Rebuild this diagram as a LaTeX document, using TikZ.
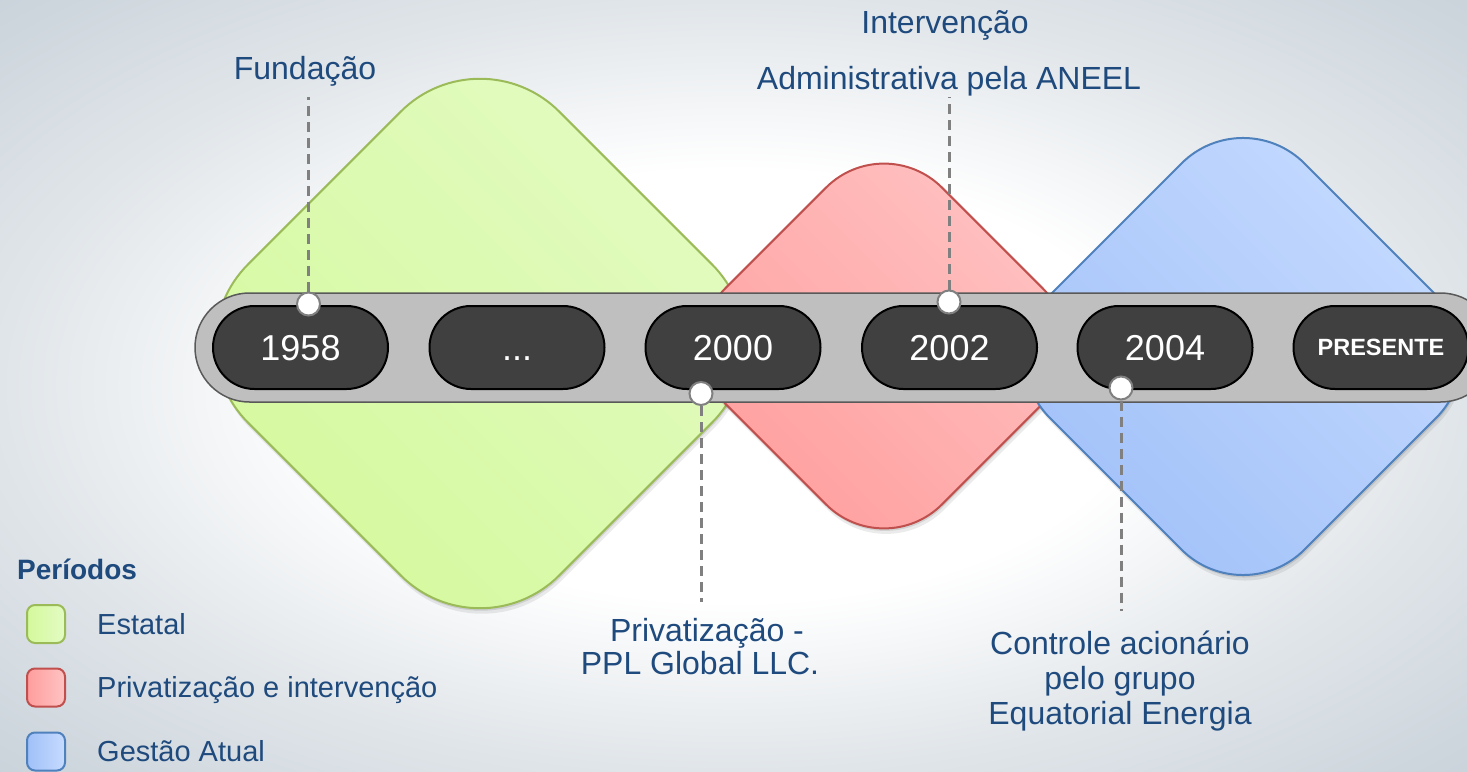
\documentclass[tikz,border=0pt]{standalone}
\usepackage{fontspec}
\setmainfont{Liberation Sans}
\definecolor{txt}{HTML}{1F4A7D}
\definecolor{bgedge}{HTML}{E0E5E9}
\definecolor{bgcorner}{HTML}{C9D2DA}
\definecolor{grnD}{HTML}{D4F99C}
\definecolor{grnL}{HTML}{E3FBC3}
\definecolor{grnB}{HTML}{9BBB59}
\definecolor{redD}{HTML}{FF9D9D}
\definecolor{redL}{HTML}{FFC3C3}
\definecolor{redB}{HTML}{C0504D}
\definecolor{bluD}{HTML}{A0C0F8}
\definecolor{bluL}{HTML}{C6DBFF}
\definecolor{bluB}{HTML}{4F81BD}
\definecolor{barc}{HTML}{BFBFBF}
\definecolor{bard}{HTML}{595959}
\definecolor{pillc}{HTML}{404040}
\definecolor{dashc}{HTML}{808080}
\pgfdeclareradialshading{bgshade}{\pgfpoint{0bp}{0bp}}{color(0bp)=(white); color(14bp)=(white); color(25bp)=(bgedge); color(36bp)=(bgcorner)}
\tikzset{
  pill/.style={draw=black, line width=2pt, fill=pillc, rounded corners=41.5pt,
    minimum width=175pt, minimum height=83pt, inner sep=0pt, text=white,
    font=\fontsize{36}{40}\selectfont, text height=25.8pt, text depth=0pt},
  dot/.style={circle, draw=dashc, line width=2pt, fill=white, minimum size=23pt, inner sep=0pt},
  dashline/.style={draw=dashc, line width=3pt, dash pattern=on 10pt off 6pt},
  lbl/.style={text=txt, font=\fontsize{32}{36}\selectfont, inner sep=0pt, anchor=base},
  leg/.style={text=txt, font=\fontsize{29}{32}\selectfont, inner sep=0pt, anchor=base west},
  legbox/.style={rounded corners=8pt, minimum width=38pt, minimum height=38pt, inner sep=0pt, line width=2pt},
  shadowA/.style={fill=black, opacity=0.10},
  shadowB/.style={fill=black, opacity=0.08},
}
\begin{document}
\begin{tikzpicture}[x=1pt,y=-1pt]
\useasboundingbox (0,0) rectangle (1467,771);
\begin{scope}
\clip (0,0) rectangle (1467,771);
\shade[shading=bgshade] (0,0) rectangle (1467,771);

% green diamond
\begin{scope}[shift={(481,346)},rotate=45]
  \fill[shadowA, rounded corners=112pt] (-220,-220) rectangle (220,220);
\end{scope}
\begin{scope}[shift={(482,349)},rotate=45]
  \fill[shadowB, rounded corners=112pt] (-220,-220) rectangle (220,220);
\end{scope}
\begin{scope}[shift={(480,343.5)},rotate=45]
  \path[draw=grnB, line width=2pt, top color=grnL, bottom color=grnD, shading angle=-45, rounded corners=112pt] (-220,-220) rectangle (220,220);
\end{scope}
% red diamond
\begin{scope}[shift={(885,348.5)},rotate=45]
  \fill[shadowA, rounded corners=82pt] (-153,-153) rectangle (153,153);
\end{scope}
\begin{scope}[shift={(886,351.5)},rotate=45]
  \fill[shadowB, rounded corners=82pt] (-153,-153) rectangle (153,153);
\end{scope}
\begin{scope}[shift={(884,346)},rotate=45]
  \path[draw=redB, line width=2pt, top color=redL, bottom color=redD, shading angle=-45, rounded corners=82pt] (-153,-153) rectangle (153,153);
\end{scope}
% blue diamond
\begin{scope}[shift={(1244,359)},rotate=45]
  \fill[shadowA, rounded corners=87pt] (-180,-180) rectangle (180,180);
\end{scope}
\begin{scope}[shift={(1245,362)},rotate=45]
  \fill[shadowB, rounded corners=87pt] (-180,-180) rectangle (180,180);
\end{scope}
\begin{scope}[shift={(1243,356.5)},rotate=45]
  \path[draw=bluB, line width=2pt, top color=bluL, bottom color=bluD, shading angle=-45, rounded corners=87pt] (-180,-180) rectangle (180,180);
\end{scope}

% bar
\node[draw=bard, line width=1.5pt, fill=barc, rounded corners=54.5pt, minimum width=1300pt, minimum height=109pt, inner sep=0pt] (bar) at (845,347.5) {};

% pills
\node[pill] (p1958) at (300.5,347.5) {1958};
\node[pill] (pdots) at (517,347.5) {...};
\node[pill] (p2000) at (733,347.5) {2000};
\node[pill] (p2002) at (949.5,347.5) {2002};
\node[pill] (p2004) at (1165,347.5) {2004};
\node[pill, font=\bfseries\fontsize{23.5}{26}\selectfont, text height=16.9pt] (ppres) at (1381,347.5) {PRESENTE};

% labels
\node[lbl] (lfund) at (305,79.5) {Fundação};
\node[lbl] (linter1) at (945,33.5) {Intervenção};
\node[lbl] (linter2) at (949,89.5) {Administrativa pela ANEEL};
\node[lbl] (lpriv1) at (707,641.5) {Privatização -};
\node[lbl] (lpriv2) at (700,674.5) {PPL Global LLC.};
\node[lbl] (lctrl1) at (1120,654.5) {Controle acionário};
\node[lbl] (lctrl2) at (1120,689.5) {pelo grupo};
\node[lbl] (lctrl3) at (1120,724.5) {Equatorial Energia};

% dots and dashed connectors
\node[dot] (d1958) at (308.5,304) {};
\node[dot] (d2002) at (949,302) {};
\node[dot] (d2000) at (701,393.5) {};
\node[dot] (d2004) at (1121,388) {};
\coordinate (e1958) at (308.5,97);
\coordinate (e2002) at (949,97);
\coordinate (e2000) at (701,602);
\coordinate (e2004) at (1121,611);
\draw[dashline] (d1958.north) -- (e1958);
\draw[dashline] (d2002.north) -- (e2002);
\draw[dashline] (d2000.south) -- (e2000);
\draw[dashline] (d2004.south) -- (e2004);

% legend
\node[text=txt, font=\bfseries\fontsize{28}{32}\selectfont, inner sep=0pt, anchor=base west] (legtitle) at (17,579) {Períodos};
\node[legbox, draw=grnB, left color=grnD, right color=grnL] (lg1) at (46,624) {};
\node[legbox, draw=redB, left color=redD, right color=redL] (lg2) at (46,687.5) {};
\node[legbox, draw=bluB, left color=bluD, right color=bluL] (lg3) at (46,751.5) {};
\node[leg] (lt1) at (97,634) {Estatal};
\node[leg] (lt2) at (97,697.5) {Privatização e intervenção};
\node[leg] (lt3) at (97,761.5) {Gestão Atual};
\end{scope}
\end{tikzpicture}
\end{document}
